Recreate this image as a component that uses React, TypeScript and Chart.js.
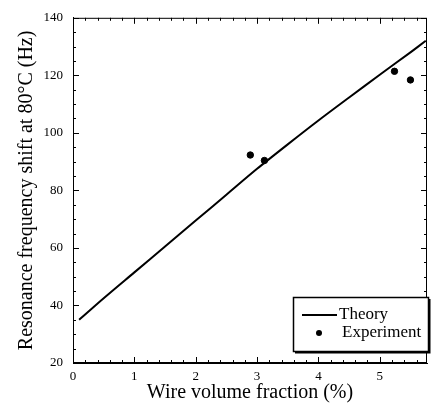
import React, { useEffect, useRef } from "react";
import { Chart, registerables } from "chart.js";

Chart.register(...registerables);

const theoryX = [0.1, 0.5, 1, 1.5, 2, 2.5, 3, 3.5, 4, 4.5, 5, 5.5, 5.75];
const theoryY = [35, 42.5, 51.5, 60.5, 69.5, 78.5, 87.5, 96, 104.3, 112.3, 120.2, 128, 132];
const expX = [2.89, 3.12, 5.24, 5.5];
const expY = [92.3, 90.4, 121.4, 118.4];
const xTicks = [0, 1, 2, 3, 4, 5];
const yTicks = [20, 40, 60, 80, 100, 120, 140];
const legendLabels = ["Theory", "Experiment"];

const SERIF = "'Liberation Serif', 'Times New Roman', serif";

const framePlugin = {
  id: "frameTicks",
  afterDatasetsDraw(chart: any) {
    const { ctx, chartArea: a, scales } = chart;
    const xs = scales.x;
    const ys = scales.y;
    ctx.save();
    ctx.strokeStyle = "#000";
    ctx.lineWidth = 1;
    ctx.strokeRect(a.left + 0.5, a.top + 0.5, a.right - a.left - 1, a.bottom - a.top - 1);
    ctx.beginPath();
    for (let i = 0; i <= 29; i++) {
      const v = i * 0.2;
      if (v > xs.max + 1e-9) break;
      const px = Math.round(xs.getPixelForValue(v)) + 0.5;
      const major = i % 5 === 0;
      const len = major ? 6 : 3;
      ctx.moveTo(px, a.bottom);
      ctx.lineTo(px, a.bottom - len);
      ctx.moveTo(px, a.top);
      ctx.lineTo(px, a.top + len);
    }
    for (let v = 20; v <= 140; v += 5) {
      const py = Math.round(ys.getPixelForValue(v)) + 0.5;
      const major = v % 20 === 0;
      const len = major ? 6 : 3;
      ctx.moveTo(a.left, py);
      ctx.lineTo(a.left + len, py);
      ctx.moveTo(a.right, py);
      ctx.lineTo(a.right - len, py);
    }
    ctx.stroke();
    ctx.restore();
  },
};

const legendPlugin = {
  id: "boxLegend",
  afterDraw(chart: any) {
    const { ctx, chartArea: a } = chart;
    const right = a.right + 2;
    const bottom = a.bottom - 11;
    const w = 136;
    const h = 55;
    const left = right - w;
    const top = bottom - h;
    ctx.save();
    ctx.fillStyle = "#fff";
    ctx.fillRect(left, top, w, h);
    ctx.strokeStyle = "#000";
    ctx.lineWidth = 1.5;
    ctx.strokeRect(left + 0.5, top + 0.5, w - 1, h - 1);
    ctx.lineWidth = 2;
    ctx.beginPath();
    ctx.moveTo(left + 2, bottom + 0.5);
    ctx.lineTo(right + 0.5, bottom + 0.5);
    ctx.lineTo(right + 0.5, top + 2);
    ctx.stroke();
    const y1 = top + 18;
    const y2 = top + 36;
    ctx.lineWidth = 2;
    ctx.beginPath();
    ctx.moveTo(left + 9, y1);
    ctx.lineTo(left + 44, y1);
    ctx.stroke();
    ctx.fillStyle = "#000";
    ctx.beginPath();
    ctx.arc(left + 26, y2, 3, 0, Math.PI * 2);
    ctx.fill();
    ctx.font = `17px ${SERIF}`;
    ctx.textBaseline = "middle";
    ctx.textAlign = "left";
    ctx.fillText(legendLabels[0], left + 46, y1);
    ctx.fillText(legendLabels[1], left + 49, y2);
    ctx.restore();
  },
};

export default function App() {
  const ref = useRef<HTMLCanvasElement | null>(null);
  useEffect(() => {
    if (!ref.current) return;
    const chart = new Chart(ref.current, {
      type: "scatter",
      data: {
        datasets: [
          {
            label: legendLabels[0],
            type: "line",
            data: theoryX.map((x, i) => ({ x, y: theoryY[i] })),
            borderColor: "#000",
            backgroundColor: "#000",
            borderWidth: 2,
            pointRadius: 0,
            tension: 0.3,
            fill: false,
          } as any,
          {
            label: legendLabels[1],
            data: expX.map((x, i) => ({ x, y: expY[i] })),
            borderColor: "#000",
            backgroundColor: "#000",
            pointRadius: 3.2,
            pointHoverRadius: 3.2,
          },
        ],
      },
      options: {
        animation: false,
        responsive: true,
        maintainAspectRatio: false,
        layout: { padding: { top: 14, right: 9, left: 0, bottom: 0 } },
        plugins: { legend: { display: false }, tooltip: { enabled: false } },
        scales: {
          x: {
            type: "linear",
            min: 0,
            max: 5.77,
            afterBuildTicks: (s: any) => {
              s.ticks = xTicks.map((v) => ({ value: v }));
            },
            afterFit: (s: any) => {
              s.height = 52;
            },
            grid: { display: false, drawTicks: false },
            border: { display: true, color: "#000" },
            ticks: {
              color: "#000",
              padding: 6,
              maxRotation: 0,
              font: { family: SERIF, size: 13 },
              callback: (v: any) => String(v),
            },
            title: {
              display: true,
              text: "Wire volume fraction (%)",
              color: "#000",
              font: { family: SERIF, size: 20 },
              padding: { top: 0, bottom: 10 },
            },
          },
          y: {
            type: "linear",
            min: 20,
            max: 140,
            afterBuildTicks: (s: any) => {
              s.ticks = yTicks.map((v) => ({ value: v }));
            },
            afterFit: (s: any) => {
              s.width = 73;
            },
            grid: { display: false, drawTicks: false },
            border: { display: true, color: "#000" },
            ticks: {
              color: "#000",
              padding: 10,
              font: { family: SERIF, size: 13 },
              callback: (v: any) => String(v),
            },
            title: {
              display: true,
              text: "Resonance frequency shift at 80°C (Hz)",
              color: "#000",
              font: { family: SERIF, size: 20 },
              padding: { top: 15, bottom: 0 },
            },
          },
        },
      },
      plugins: [framePlugin, legendPlugin],
    });
    return () => chart.destroy();
  }, []);
  return (
    <div style={{ position: "fixed", left: 0, top: 0, width: 436, height: 415, background: "#fff" }}>
      <canvas ref={ref} />
    </div>
  );
}
